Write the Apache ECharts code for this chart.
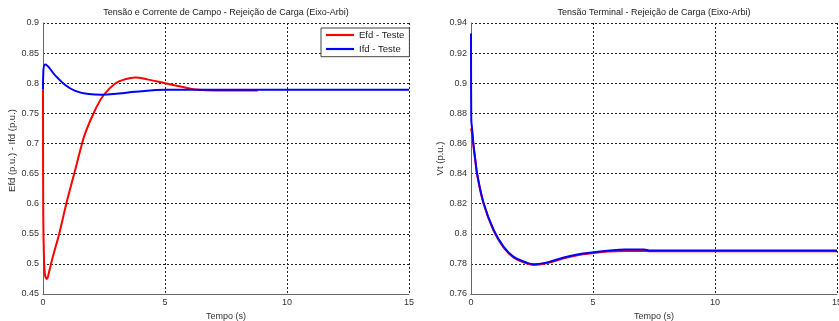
<!DOCTYPE html>
<html>
<head>
<meta charset="utf-8">
<script src="https://cdn.jsdelivr.net/npm/echarts@6/dist/echarts.min.js"></script>
<style>html,body{margin:0;padding:0;background:#fff}#c{width:839px;height:321px}</style>
</head>
<body>
<div id="c"></div>
<script>
// Left chart: field voltage and current
var efdTime = [0, 0.01, 0.04, 0.08, 0.16, 0.25, 0.37, 0.67, 0.98, 1.3, 1.53, 1.73, 2.14, 2.48, 2.96, 3.37, 3.78, 4.32, 5.0, 5.69, 6.37, 7.05, 8.8];
var efdValues = [0.79, 0.585, 0.51, 0.482, 0.475, 0.487, 0.507, 0.551, 0.604, 0.653, 0.689, 0.717, 0.756, 0.780, 0.7995, 0.8066, 0.8093, 0.806, 0.800, 0.794, 0.789, 0.788, 0.788];
var ifdTime = [0, 0.01, 0.09, 0.5, 0.91, 1.32, 1.87, 2.41, 3.1, 3.78, 5, 7, 15];
var ifdValues = [0.79, 0.815, 0.831, 0.813, 0.797, 0.7874, 0.782, 0.781, 0.783, 0.7857, 0.789, 0.7892, 0.789];
// Right chart: terminal voltage
var vtTime = [0, 0.01, 0.05, 0.11, 0.18, 0.25, 0.52, 0.93, 1.34, 1.75, 2.3, 2.57, 3.12, 3.67, 4.36, 5.04, 5.59, 6.3, 7.1, 7.3, 15];
var vtBlue = [0.933, 0.8766, 0.869, 0.858, 0.849, 0.840, 0.8203, 0.8025, 0.7913, 0.7847, 0.7807, 0.7798, 0.781, 0.7836, 0.7863, 0.7878, 0.7887, 0.7896, 0.7896, 0.7889, 0.7889];
var vtRed = [0.87, 0.87, 0.866, 0.857, 0.848, 0.8395, 0.8198, 0.802, 0.7908, 0.7842, 0.7802, 0.7793, 0.7805, 0.7831, 0.7858, 0.7873, 0.7882, 0.7886, 0.7886, 0.7884, 0.7884];
var xTicks = {min: 0, max: 15, interval: 5};
var titles = ['Tensão e Corrente de Campo - Rejeição de Carga (Eixo-Arbi)', 'Tensão Terminal - Rejeição de Carga (Eixo-Arbi)'];
var yNames = ['Efd (p.u.) - Ifd (p.u.)', 'Vt (p.u.)'];
var xName = 'Tempo (s)';
var legendNames = ['Efd - Teste', 'Ifd - Teste'];

function pairs(t, v) { return t.map(function (x, i) { return [x, v[i]]; }); }

var FONT = 'Liberation Sans, Arial, sans-serif';
var txt = {fontFamily: FONT, fontSize: 9, color: '#333'};
var grids = [
  {left: 43, right: 430, top: 23, bottom: 27, containLabel: false, outerBoundsMode: 'none'},
  {left: 471, right: 2, top: 23, bottom: 27, containLabel: false, outerBoundsMode: 'none'}
];
function xAxis(i) {
  return {
    type: 'value', gridIndex: i, min: xTicks.min, max: xTicks.max, interval: xTicks.interval,
    name: xName, nameLocation: 'middle', nameGap: 15, nameTextStyle: txt,
    axisLine: {show: true, lineStyle: {color: '#666', width: 1}},
    axisTick: {show: false},
    axisLabel: Object.assign({margin: 4}, txt),
    splitLine: {show: true, lineStyle: {color: '#222', type: [2, 2], width: 1}}
  };
}
function yAxis(i, min, max, interval, shift) {
  return {
    type: 'value', gridIndex: i, min: min, max: max, interval: interval,
    name: yNames[i], nameLocation: 'middle', nameGap: 26,
    nameTextStyle: {fontFamily: FONT, fontSize: 9.5, color: '#333', padding: [0, 0, 0, shift]},
    axisLine: {show: true, lineStyle: {color: '#666', width: 1}},
    axisTick: {show: false},
    axisLabel: Object.assign({margin: 4}, txt),
    splitLine: {show: true, lineStyle: {color: '#222', type: [2, 2], width: 1}}
  };
}
var lineBase = {type: 'line', showSymbol: false, symbol: 'none', smooth: 0.4};
var lineIcon = 'path://M0,0 L26,0 L26,2 L0,2 Z';

var chart = echarts.init(document.getElementById('c'), null, {renderer: 'canvas'});
chart.setOption({
  backgroundColor: '#fff',
  animation: false,
  title: [
    {text: titles[0], left: 226, top: 8, padding: 0, textAlign: 'center', textStyle: {fontFamily: FONT, fontSize: 9, fontWeight: 'normal', color: '#222'}},
    {text: titles[1], left: 654, top: 8, padding: 0, textAlign: 'center', textStyle: {fontFamily: FONT, fontSize: 9, fontWeight: 'normal', color: '#222'}}
  ],
  legend: {
    data: [{name: legendNames[0], icon: lineIcon}, {name: legendNames[1], icon: lineIcon}],
    orient: 'vertical', left: 321, top: 28,
    padding: [2, 5, 2.7, 5], itemGap: 4, itemWidth: 28, itemHeight: 10, symbolKeepAspect: true,
    backgroundColor: '#fff', borderColor: '#444', borderWidth: 1, borderRadius: 0,
    textStyle: {fontFamily: FONT, fontSize: 9.5, color: '#222'}
  },
  grid: grids,
  xAxis: [xAxis(0), xAxis(1)],
  yAxis: [yAxis(0, 0.45, 0.9, 0.05, 16), yAxis(1, 0.76, 0.94, 0.02, 0)],
  series: [
    Object.assign({}, lineBase, {name: legendNames[0], xAxisIndex: 0, yAxisIndex: 0, data: pairs(efdTime, efdValues), lineStyle: {color: '#ff0000', width: 2}, itemStyle: {color: '#ff0000'}}),
    Object.assign({}, lineBase, {name: legendNames[1], xAxisIndex: 0, yAxisIndex: 0, data: pairs(ifdTime, ifdValues), lineStyle: {color: '#0000ff', width: 2}, itemStyle: {color: '#0000ff'}}),
    Object.assign({}, lineBase, {name: 'Vt ref', xAxisIndex: 1, yAxisIndex: 1, data: pairs(vtTime, vtRed), lineStyle: {color: '#ff0000', width: 2}, itemStyle: {color: '#ff0000'}}),
    Object.assign({}, lineBase, {name: 'Vt', xAxisIndex: 1, yAxisIndex: 1, data: pairs(vtTime, vtBlue), lineStyle: {color: '#0000ff', width: 2}, itemStyle: {color: '#0000ff'}})
  ]
});
</script>
</body>
</html>
